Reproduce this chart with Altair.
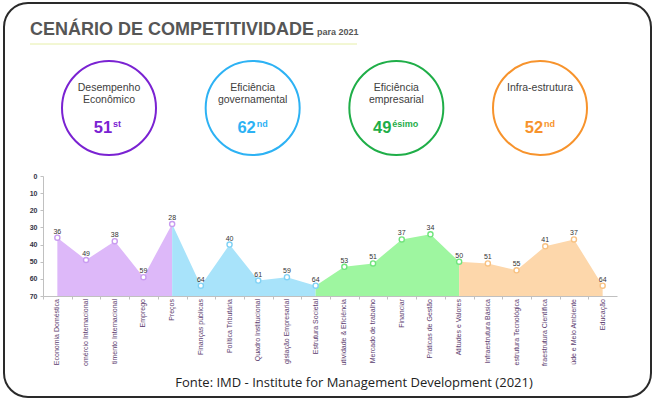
import altair as alt
import pandas as pd

# ---------------- data ----------------
categorias = [
    "Economia Doméstica", "Comércio Internacional", "Investimento Internacional", "Emprego", "Preços",
    "Finanças públicas", "Política Tributária", "Quadro Institucional", "Legislação Empresarial", "Estrutura Societal",
    "Produtividade & Eficiência", "Mercado de trabalho", "Financiar", "Práticas de Gestão", "Atitudes e Valores",
    "Infraestrutura Básica", "Infraestrutura Tecnológica", "Infraestrutura Científica", "Saúde e Meio Ambiente", "Educação",
]
valores = [36, 49, 38, 59, 28, 64, 40, 61, 59, 64, 53, 51, 37, 34, 50, 51, 55, 41, 37, 64]

pilares = ["Desempenho Econômico", "Eficiência governamental", "Eficiência empresarial", "Infra-estrutura"]
pilares_rotulo = ["Desempenho\nEconômico", "Eficiência\ngovernamental", "Eficiência\nempresarial", "Infra-estrutura"]
posicoes = [51, 62, 49, 52]
sufixos = ["st", "nd", "ésimo", "nd"]

titulo = "CENÁRIO DE COMPETITIVIDADE"
subtitulo = "para 2021"
fonte = "Fonte: IMD - Institute for Management Development (2021)"
y_ticks = [0, 10, 20, 30, 40, 50, 60, 70]

# ---------------- style ----------------
FONT = "Liberation Sans"
CORES_CIRCULO = ["#7a22d2", "#2db2f4", "#1fae48", "#f7932c"]
CORES_AREA = ["#ddb8f9", "#a8e3fa", "#9ef6a0", "#fdd7ab"]
CORES_PONTO = ["#c99cf0", "#80d2f5", "#70e47c", "#f8c283"]

OX, OY = 43, 176          # plot origin inside the 655x400 page
W, H = 574, 120
STEP = W / len(categorias)

# ---------------- tables ----------------
por_pilar = len(categorias) // len(pilares)
rows = []
for g, p in enumerate(pilares):
    ini = max(0, por_pilar * g - 1)
    for i in range(ini, por_pilar * (g + 1)):
        rows.append({"categoria": categorias[i], "valor": valores[i], "pilar": p, "ordem": i})
df_area = pd.DataFrame(rows)
df_pts = pd.DataFrame({
    "categoria": categorias,
    "valor": valores,
    "pilar": [pilares[i // por_pilar] for i in range(len(categorias))],
})
df_pil = pd.DataFrame({"pilar": pilares, "rotulo": pilares_rotulo, "posicao": posicoes, "sufixo": sufixos})

# ---------------- area chart ----------------
xenc = alt.X(
    "categoria:N",
    sort=categorias,
    scale=alt.Scale(type="point", domain=categorias, padding=0.5),
    axis=alt.Axis(
        title=None, labels=False,
        domainColor="#c0c0c0", tickColor="#c0c0c0", tickSize=3, zindex=1,
        tickOffset=-STEP / 2,
    ),
)
yenc = alt.Y(
    "valor:Q",
    stack=None,
    scale=alt.Scale(domain=[0, 70], reverse=True, nice=False, zero=False),
    axis=alt.Axis(
        title=None, values=y_ticks, labelFontSize=7, labelFont=FONT, labelFontWeight="bold",
        labelColor="#333344", domainColor="#c0c0c0", tickColor="#c0c0c0", tickSize=3,
        grid=False, labelPadding=3, zindex=1, labelOverlap=False, labelFlush=False,
    ),
)

areas = alt.Chart(df_area).mark_area(opacity=1, interpolate="linear").encode(
    x=xenc,
    y=yenc,
    y2=alt.Y2(datum=70),
    color=alt.Color("pilar:N", scale=alt.Scale(domain=pilares, range=CORES_AREA), legend=None),
    detail="pilar:N",
)
pts = alt.Chart(df_pts).mark_point(
    shape="circle", fill="white", fillOpacity=1, opacity=1, size=26, strokeWidth=1.4
).encode(
    x=xenc,
    y=yenc,
    stroke=alt.Stroke("pilar:N", scale=alt.Scale(domain=pilares, range=CORES_PONTO), legend=None),
)
lbls = alt.Chart(df_pts).mark_text(
    baseline="bottom", dy=-3, fontSize=7, font=FONT, color="#333333"
).encode(
    x=xenc,
    y=yenc,
    text="valor:Q",
)
# category labels, rotated, clipped at the start like the original text boxes
cat_lbls = alt.Chart(df_pts).mark_text(
    angle=270, align="right", baseline="middle", dir="rtl", limit=68, ellipsis="\u200b",
    fontSize=7, font=FONT, color="#5b3c6e",
).encode(
    x=xenc,
    y=alt.value(H + 3),
    text="categoria:N",
)
chart_layer = alt.layer(areas, pts, lbls, cat_lbls)

# ---------------- pillar circles ----------------
xp = alt.X(
    "pilar:N", sort=pilares,
    scale=alt.Scale(type="point", domain=pilares, range=[109 - OX, 540 - OX], padding=0),
    axis=None,
)
circ = alt.Chart(df_pil).mark_point(shape="circle", size=94 * 94, strokeWidth=2, opacity=1).encode(
    x=xp,
    y=alt.value(108 - OY),
    stroke=alt.Stroke("pilar:N", scale=alt.Scale(domain=pilares, range=CORES_CIRCULO), legend=None),
)
nomes = alt.Chart(df_pil).mark_text(
    baseline="top", lineBreak="\n", lineHeight=12, fontSize=10.5, font=FONT, color="#404040"
).encode(x=xp, y=alt.value(83 - OY), text="rotulo:N")

base_num = alt.Chart(df_pil).transform_calculate(
    off="8.5 - 2.7 * length(datum.sufixo)",
    off2="9.5 - 2.7 * length(datum.sufixo)",
)
nums = base_num.mark_text(
    align="right", baseline="alphabetic", fontSize=16.5, fontWeight="bold", font=FONT
).encode(
    x=xp,
    xOffset=alt.XOffset("off:Q", scale=None),
    y=alt.value(133 - OY),
    text="posicao:N",
    color=alt.Color("pilar:N", scale=alt.Scale(domain=pilares, range=CORES_CIRCULO), legend=None),
)
sufs = base_num.mark_text(
    align="left", baseline="alphabetic", fontSize=9, fontWeight="bold", font=FONT
).encode(
    x=xp,
    xOffset=alt.XOffset("off2:Q", scale=None),
    y=alt.value(127 - OY),
    text="sufixo:N",
    color=alt.Color("pilar:N", scale=alt.Scale(domain=pilares, range=CORES_CIRCULO), legend=None),
)
circle_layer = alt.layer(circ, nomes, nums, sufs)

# ---------------- decorations ----------------
one = pd.DataFrame({"t": [0]})
borda = alt.Chart(one).mark_rect(
    cornerRadius=24, fill="white", fillOpacity=0, stroke="#2a2a2a", strokeWidth=2
).encode(
    x=alt.value(4 - OX), x2=alt.value(651 - OX), y=alt.value(3 - OY), y2=alt.value(397 - OY)
)
tit = alt.Chart(pd.DataFrame({"t": [titulo]})).mark_text(
    align="left", baseline="alphabetic", fontSize=18, fontWeight="bold", font=FONT, color="#565656"
).encode(x=alt.value(30 - OX), y=alt.value(35 - OY), text="t:N")
sub = alt.Chart(pd.DataFrame({"t": [subtitulo]})).mark_text(
    align="left", baseline="alphabetic", fontSize=9, fontWeight="bold", font=FONT, color="#565656"
).encode(x=alt.value(317 - OX), y=alt.value(35 - OY), text="t:N")
linha = alt.Chart(one).mark_rule(color="#e6efa8", strokeWidth=1).encode(
    x=alt.value(30 - OX), x2=alt.value(357 - OX), y=alt.value(44 - OY)
)
src = alt.Chart(pd.DataFrame({"t": [fonte]})).mark_text(
    align="center", baseline="middle", fontSize=13, font="Open Sans", color="#222222"
).encode(x=alt.value(354 - OX), y=alt.value(383 - OY), text="t:N")

chart = alt.layer(
    chart_layer, circle_layer, borda, linha, tit, sub, src
).resolve_scale(
    x="independent", color="independent", stroke="independent"
).properties(
    width=W, height=H,
    padding={"left": OX, "top": OY, "right": 655 - OX - W, "bottom": 400 - OY - H},
    autosize="none",
    background="white",
).configure_view(stroke=None)

chart.save("out.html", embed_options={"renderer": "svg", "actions": False})
